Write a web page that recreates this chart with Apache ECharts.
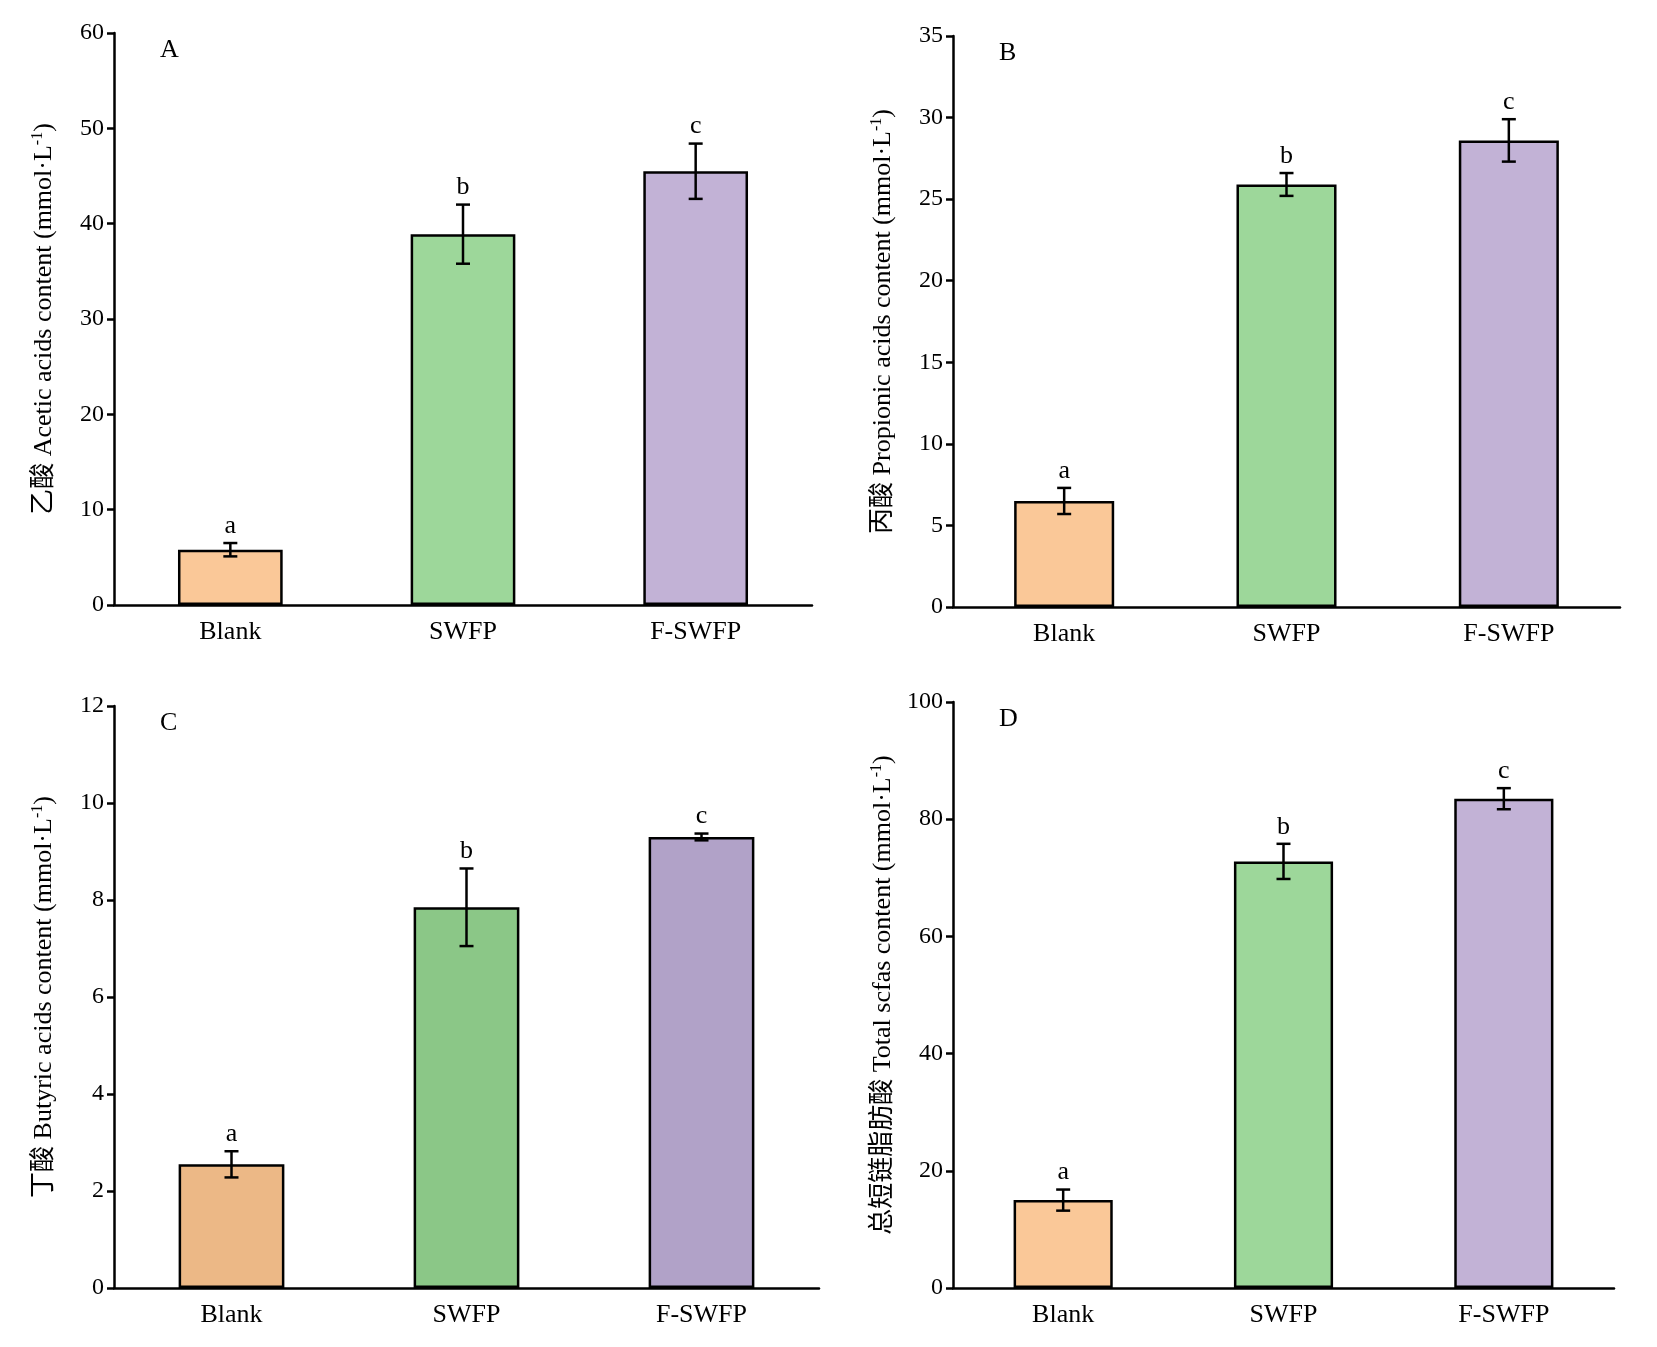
<!DOCTYPE html>
<html><head><meta charset="utf-8">
<script src="https://cdn.jsdelivr.net/npm/echarts@6/dist/echarts.min.js"></script>
<style>html,body{margin:0;background:#fff}#c{width:1657px;height:1347px}</style>
</head><body><div id="c"></div>
<script>
var groups = ['Blank', 'SWFP', 'F-SWFP'];
var acetic = [5.8, 38.9, 45.5], aceticErr = [0.7, 3.1, 2.9];
var propionic = [6.5, 25.9, 28.6], propionicErr = [0.8, 0.7, 1.3];
var butyric = [2.55, 7.85, 9.3], butyricErr = [0.27, 0.8, 0.07];
var total = [15.0, 72.8, 83.5], totalErr = [1.8, 3.0, 1.8];
var letters = ['a', 'b', 'c'];
var colorsMain = ['#fac898', '#9dd79a', '#c2b2d6'];
var colorsC = ['#ecb886', '#8bc787', '#b1a2c8'];

var FONT = 'Liberation Serif, Noto Sans CJK SC, serif';
var panels = [
  {tag: 'A', vals: acetic, err: aceticErr, max: 60, step: 10, cn: '乙酸', en: ' Acetic acids content', colors: colorsMain,
   grid: {left: 114, top: 33, width: 698, height: 572}},
  {tag: 'B', vals: propionic, err: propionicErr, max: 35, step: 5, cn: '丙酸', en: ' Propionic acids content', colors: colorsMain,
   grid: {left: 953, top: 36, width: 667, height: 571}},
  {tag: 'C', vals: butyric, err: butyricErr, max: 12, step: 2, cn: '丁酸', en: ' Butyric acids content', colors: colorsC,
   grid: {left: 114, top: 706, width: 705, height: 582}},
  {tag: 'D', vals: total, err: totalErr, max: 100, step: 20, cn: '总短链脂肪酸', en: ' Total scfas content', colors: colorsMain,
   grid: {left: 953, top: 702, width: 661, height: 586}}
];

var option = {backgroundColor: '#fff', animation: false, grid: [], xAxis: [], yAxis: [], series: [], graphic: []};
panels.forEach(function (p, i) {
  option.grid.push(p.grid);
  option.xAxis.push({
    type: 'category', gridIndex: i, data: groups,
    axisLine: {lineStyle: {color: '#000', width: 2.5}}, axisTick: {show: false},
    axisLabel: {color: '#000', fontFamily: FONT, fontSize: 26, margin: 14}
  });
  option.yAxis.push({
    type: 'value', gridIndex: i, min: 0, max: p.max, interval: p.step,
    splitLine: {show: false},
    axisLine: {show: true, lineStyle: {color: '#000', width: 2.5}},
    axisTick: {show: true, length: 7, lineStyle: {width: 2.5}},
    axisLabel: {color: '#000', fontFamily: FONT, fontSize: 24, margin: 10},
    name: '{t|' + p.cn + p.en + ' (mmol·L}{s|-1}{t|)}',
    nameLocation: 'middle', nameGap: 56, nameRotate: 90,
    nameTextStyle: {rich: {
      t: {fontFamily: FONT, fontSize: 26, color: '#000'},
      s: {fontFamily: FONT, fontSize: 16, color: '#000', verticalAlign: 'top', padding: [0, 0, 12, 0]}
    }}
  });
  option.series.push({
    type: 'bar', xAxisIndex: i, yAxisIndex: i, barWidth: '45%',
    data: p.vals.map(function (v, k) {
      return {value: v, itemStyle: {color: p.colors[k], borderColor: '#000', borderWidth: 2.5}};
    })
  });
  option.series.push({
    type: 'custom', xAxisIndex: i, yAxisIndex: i, z: 10,
    data: p.vals.map(function (v, k) { return [k, v - p.err[k], v + p.err[k], letters[k]]; }),
    renderItem: function (params, api) {
      var lo = api.coord([api.value(0), api.value(1)]);
      var hi = api.coord([api.value(0), api.value(2)]);
      var w = 7, st = {stroke: '#000', lineWidth: 2.5};
      return {type: 'group', children: [
        {type: 'line', shape: {x1: lo[0], y1: lo[1], x2: hi[0], y2: hi[1]}, style: st},
        {type: 'line', shape: {x1: lo[0] - w, y1: lo[1], x2: lo[0] + w, y2: lo[1]}, style: st},
        {type: 'line', shape: {x1: hi[0] - w, y1: hi[1], x2: hi[0] + w, y2: hi[1]}, style: st},
        {type: 'text', x: hi[0], y: hi[1] - 4, style: {text: api.value(3), fill: '#000',
          font: '26px ' + FONT, textAlign: 'center', textVerticalAlign: 'bottom'}}
      ]};
    }
  });
  option.graphic.push({type: 'text', left: p.grid.left + 46, top: p.grid.top + 4,
    style: {text: p.tag, font: '26px ' + FONT, fill: '#000'}});
});
echarts.init(document.getElementById('c')).setOption(option);
</script></body></html>
